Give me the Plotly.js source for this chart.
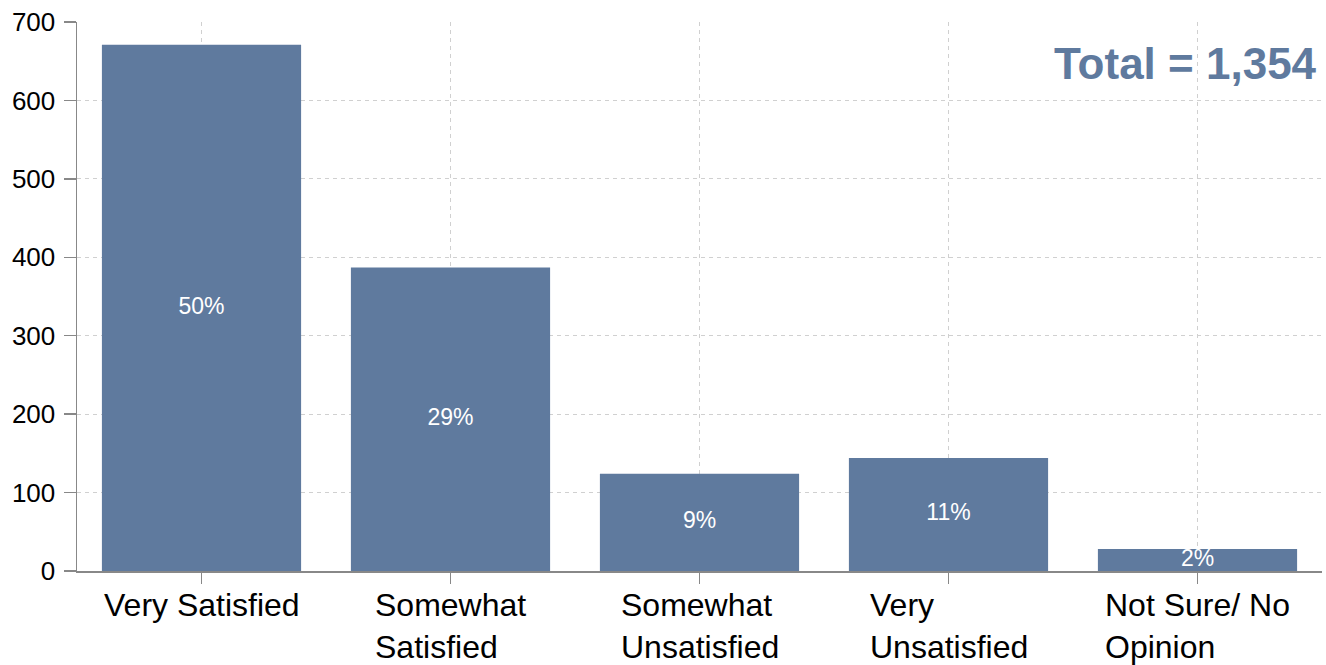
<!DOCTYPE html>
<html>
<head>
<meta charset="utf-8">
<script src="https://cdn.plot.ly/plotly-3.0.1.min.js"></script>
<style>
  html, body { margin: 0; padding: 0; background: #fff; }
  #chart { width: 1326px; height: 665px; }
</style>
</head>
<body>
<div id="chart"></div>
<script>
// ---- data ----
const categories = ["Very Satisfied", "Somewhat Satisfied", "Somewhat Unsatisfied", "Very Unsatisfied", "Not Sure/ No Opinion"];
const tickLabels = ["Very Satisfied", "Somewhat<br>Satisfied", "Somewhat<br>Unsatisfied", "Very<br>Unsatisfied", "Not Sure/ No<br>Opinion"];
const counts = [671, 387, 124, 144, 28];
const percentLabels = ["50%", "29%", "9%", "11%", "2%"];
const totalLabel = "Total = 1,354";
const yTicks = [0, 100, 200, 300, 400, 500, 600, 700];

const barColor = "#5f7a9e";
const fontFam = "Liberation Sans, Arial, Helvetica, sans-serif";

const bars = {
  type: "bar",
  x: categories,
  y: counts,
  marker: { color: barColor },
  hoverinfo: "none",
  showlegend: false
};

const labels = {
  type: "scatter",
  mode: "text",
  x: categories,
  y: counts.map(v => v / 2),
  text: percentLabels,
  textposition: "middle center",
  textfont: { family: fontFam, size: 23, color: "#ffffff" },
  cliponaxis: true,
  hoverinfo: "none",
  showlegend: false
};

const annotations = categories.map((c, i) => ({
  x: c, xref: "x",
  y: 0, yref: "paper",
  xanchor: "center", yanchor: "top",
  yshift: -14,
  align: "left",
  showarrow: false,
  text: tickLabels[i],
  font: { family: fontFam, size: 32, color: "#000000" }
}));

annotations.push({
  x: 1, xref: "paper", xanchor: "right", xshift: -3,
  y: 1, yref: "paper", yanchor: "top", yshift: -15,
  showarrow: false,
  text: "<b>" + totalLabel + "</b>",
  font: { family: fontFam, size: 44, color: barColor }
});

const layout = {
  width: 1326,
  height: 665,
  margin: { l: 77, r: 4, t: 22, b: 94, pad: 0 },
  paper_bgcolor: "#ffffff",
  plot_bgcolor: "#ffffff",
  bargap: 0.2,
  xaxis: {
    type: "category",
    showticklabels: false,
    ticks: "outside",
    ticklen: 11,
    tickwidth: 1.5,
    tickcolor: "#888888",
    showline: true,
    linecolor: "#888888",
    linewidth: 1.5,
    showgrid: true,
    gridcolor: "#d0d0d0",
    griddash: "4px,4px",
    gridwidth: 1,
    zeroline: false,
    fixedrange: true
  },
  yaxis: {
    range: [0, 700],
    tickvals: yTicks,
    ticktext: yTicks.map(String),
    ticks: "outside",
    ticklen: 12,
    tickwidth: 1.5,
    tickcolor: "#888888",
    showline: true,
    linecolor: "#888888",
    linewidth: 1.5,
    showgrid: true,
    gridcolor: "#d0d0d0",
    griddash: "4px,4px",
    gridwidth: 1,
    zeroline: false,
    ticklabelstandoff: 3,
    tickfont: { family: fontFam, size: 26, color: "#000000" },
    fixedrange: true
  },
  annotations: annotations,
  font: { family: fontFam }
};

Plotly.newPlot("chart", [bars, labels], layout, { displayModeBar: false, staticPlot: true });
</script>
</body>
</html>
